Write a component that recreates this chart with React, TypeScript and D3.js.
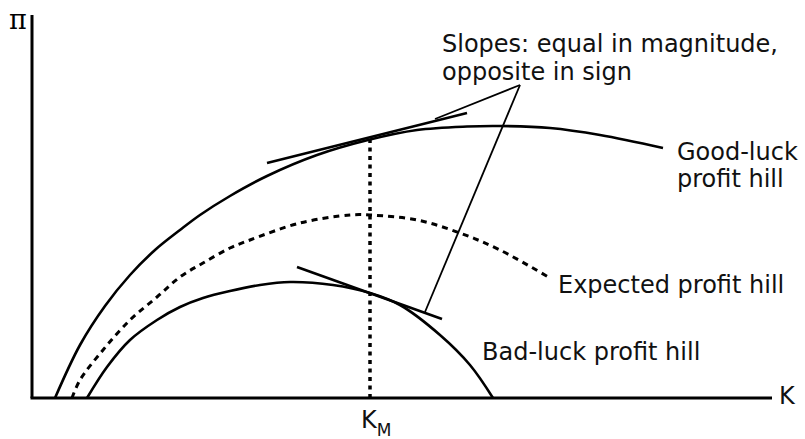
import React from "react";
import * as d3 from "d3";

// Data in arbitrary units (K horizontal, π vertical)
const goodLuck: [number, number][] = [
  [4.6, 0], [9.6, 10.6], [14.6, 18.4], [19.6, 24.6], [24.6, 29.6], [29.6, 33.6],
  [33.6, 36.6], [39.6, 40.4], [47, 44.4], [57, 48.6], [67.2, 51.6], [77, 53.6],
  [87, 54.3], [93.6, 54.4], [103.6, 54], [113.6, 52.6], [126.2, 50],
];
const expected: [number, number][] = [
  [8, 0], [9.6, 3.6], [14.2, 9.6], [19.6, 15.6], [25, 20.2], [29.6, 24.2],
  [34.2, 27], [39.6, 30], [43.6, 31.6], [53.6, 35], [63.6, 36.6], [67.6, 36.6],
  [77, 35.6], [85.6, 33], [93.6, 29.6], [103.6, 24],
];
const badLuck: [number, number][] = [
  [11, 0], [15, 6.2], [19.6, 11.6], [25, 15.6], [29.6, 18.2], [34.2, 20],
  [39.6, 21.4], [45.6, 22.6], [51.6, 23.2], [60.2, 22.6], [67.6, 21],
  [73.6, 18.6], [81.6, 12.6], [87.6, 6.6], [92.2, 0],
];
const tangentUpper: [number, number][] = [[47, 47], [87, 57]];
const tangentLower: [number, number][] = [[53, 26.2], [82, 15.8]];
const pointerApex: [number, number] = [97.6, 62.6];
const pointerEnds: [number, number][] = [[80.6, 55.8], [78.6, 17.2]];
const KM = 67.6;
const KMTop = 51.6;
const kMax = 148;
const piMax = 76.6;

const W = 805;
const H = 439;

export default function App() {
  const x = d3.scaleLinear().domain([0, kMax]).range([32, 772]);
  const y = d3.scaleLinear().domain([0, piMax]).range([398, 15]);
  const curve = d3
    .line<[number, number]>()
    .x((d) => x(d[0]))
    .y((d) => y(d[1]))
    .curve(d3.curveCatmullRom.alpha(0.5));
  const straight = d3
    .line<[number, number]>()
    .x((d) => x(d[0]))
    .y((d) => y(d[1]));

  const font = "'DejaVu Sans', sans-serif";
  const fs = 24;
  return (
    <svg
      width={W}
      height={H}
      style={{ position: "absolute", left: 0, top: 0, background: "#fff" }}
    >
      {/* axes */}
      <line x1={x(0)} y1={y(0)} x2={x(0)} y2={y(piMax)} stroke="#000" strokeWidth={3} />
      <line x1={x(0) - 1.5} y1={y(0)} x2={x(kMax)} y2={y(0)} stroke="#000" strokeWidth={3} />

      {/* curves */}
      <path d={curve(goodLuck) || ""} fill="none" stroke="#000" strokeWidth={2.6} />
      <path
        d={curve(expected) || ""}
        fill="none"
        stroke="#000"
        strokeWidth={3}
        strokeDasharray="6 5"
      />
      <path d={curve(badLuck) || ""} fill="none" stroke="#000" strokeWidth={2.6} />

      {/* K_M vertical dotted */}
      <line
        x1={x(KM)}
        y1={y(0)}
        x2={x(KM)}
        y2={y(KMTop)}
        stroke="#000"
        strokeWidth={3.5}
        strokeDasharray="4 4.5"
      />

      {/* tangents */}
      <path d={straight(tangentUpper) || ""} stroke="#000" strokeWidth={2.4} fill="none" />
      <path d={straight(tangentLower) || ""} stroke="#000" strokeWidth={2.6} fill="none" />

      {/* pointers */}
      {pointerEnds.map((e, i) => (
        <path
          key={i}
          d={straight([pointerApex, e]) || ""}
          stroke="#000"
          strokeWidth={1.8}
          fill="none"
        />
      ))}

      {/* labels */}
      <text x={9} y={29} fontFamily="'DejaVu Serif', serif" fontSize={27} fill="#000">
        π
      </text>
      <text x={779} y={404} fontFamily={font} fontSize={fs} fill="#111">
        K
      </text>
      <text x={361} y={428} fontFamily={font} fontSize={fs} fill="#111">
        K
        <tspan fontSize={17} dy={8}>
          M
        </tspan>
      </text>
      <text fontFamily={font} fontSize={fs} fill="#111">
        <tspan x={442} y={52}>Slopes: equal in magnitude,</tspan>
        <tspan x={442} y={80}>opposite in sign</tspan>
      </text>
      <text fontFamily={font} fontSize={fs} fill="#111">
        <tspan x={677} y={160}>Good-luck</tspan>
        <tspan x={677} y={187}>profit hill</tspan>
      </text>
      <text x={558} y={293} fontFamily={font} fontSize={fs} fill="#111">
        Expected profit hill
      </text>
      <text x={482} y={360} fontFamily={font} fontSize={fs} fill="#111">
        Bad-luck profit hill
      </text>
    </svg>
  );
}
